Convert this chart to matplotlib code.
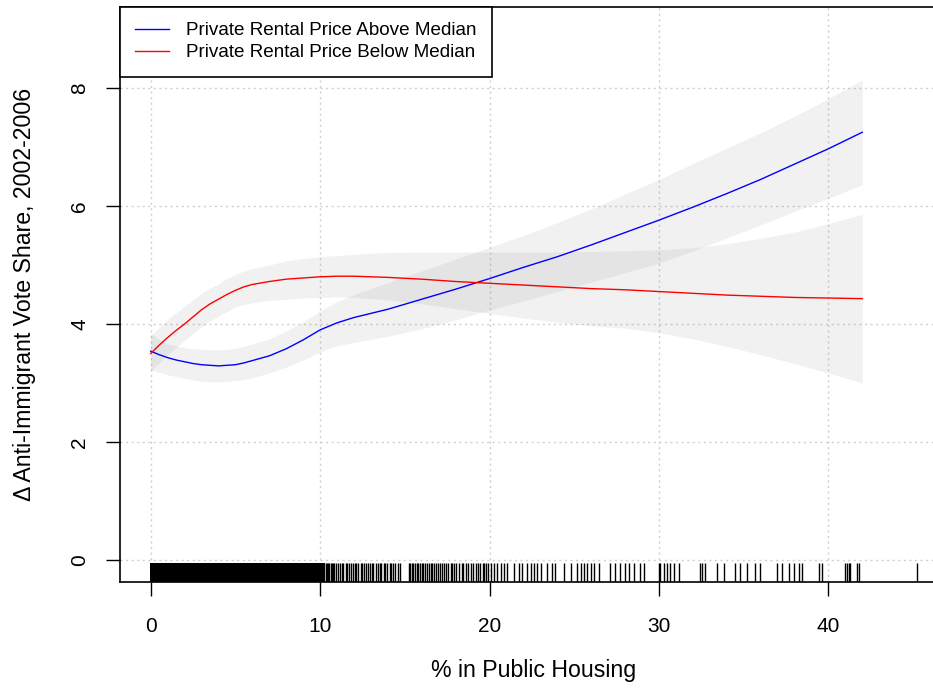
import numpy as np
import matplotlib
matplotlib.use('Agg')
import matplotlib.pyplot as plt
import matplotlib.transforms as mtransforms

plt.rcParams['font.family'] = ['Liberation Sans', 'DejaVu Sans']

# Smoothed fits
x_grid = [0, 0.5, 1, 1.5, 2, 2.5, 3, 3.5, 4, 4.5, 5, 5.5, 6, 7, 8, 9, 10, 11,
          12, 13, 14, 16, 18, 20, 22, 24, 26, 28, 30, 32, 34, 36, 38, 40, 42]

above_fit = [3.54, 3.48, 3.43, 3.39, 3.36, 3.33, 3.31, 3.30, 3.29, 3.30, 3.31,
             3.34, 3.38, 3.46, 3.58, 3.73, 3.90, 4.02, 4.11, 4.18, 4.25, 4.42,
             4.59, 4.77, 4.96, 5.14, 5.34, 5.55, 5.76, 5.98, 6.21, 6.45, 6.71,
             6.97, 7.25]
above_lo = [3.22, 3.18, 3.14, 3.11, 3.08, 3.05, 3.03, 3.02, 3.02, 3.03, 3.04,
            3.06, 3.09, 3.17, 3.27, 3.39, 3.53, 3.63, 3.69, 3.74, 3.79, 3.92,
            4.07, 4.24, 4.39, 4.55, 4.71, 4.87, 5.03, 5.24, 5.46, 5.68, 5.91,
            6.13, 6.36]
above_hi = [3.84, 3.74, 3.66, 3.63, 3.60, 3.58, 3.57, 3.56, 3.56, 3.57, 3.59,
            3.62, 3.66, 3.75, 3.88, 4.04, 4.22, 4.38, 4.50, 4.60, 4.70, 4.90,
            5.10, 5.30, 5.50, 5.72, 5.95, 6.20, 6.45, 6.72, 6.98, 7.24, 7.52,
            7.82, 8.14]

below_fit = [3.50, 3.64, 3.77, 3.89, 4.00, 4.12, 4.24, 4.34, 4.42, 4.50, 4.57,
             4.63, 4.67, 4.72, 4.76, 4.78, 4.80, 4.81, 4.81, 4.80, 4.79, 4.76,
             4.72, 4.69, 4.66, 4.63, 4.60, 4.58, 4.55, 4.52, 4.49, 4.47, 4.45,
             4.44, 4.43]
below_lo = [3.20, 3.34, 3.48, 3.60, 3.72, 3.84, 3.95, 4.05, 4.13, 4.21, 4.29,
            4.33, 4.36, 4.40, 4.42, 4.44, 4.45, 4.46, 4.45, 4.43, 4.41, 4.34,
            4.26, 4.18, 4.10, 4.03, 3.97, 3.93, 3.85, 3.75, 3.62, 3.48, 3.33,
            3.17, 3.00]
below_hi = [3.80, 3.94, 4.08, 4.19, 4.30, 4.41, 4.52, 4.61, 4.68, 4.77, 4.84,
            4.90, 4.94, 5.00, 5.07, 5.11, 5.14, 5.16, 5.18, 5.20, 5.21, 5.22,
            5.22, 5.22, 5.22, 5.22, 5.23, 5.24, 5.26, 5.29, 5.36, 5.45, 5.56,
            5.70, 5.86]

# Rug of observed % in public housing
rug_x = [
    0.0, 0.05, 0.1, 0.18, 0.25, 0.3, 0.38, 0.45, 0.52, 0.6, 0.66, 0.72, 0.8,
    0.87, 0.93, 1.0, 1.08, 1.15, 1.2, 1.28, 1.35, 1.42, 1.5, 1.56, 1.63, 1.7,
    1.78, 1.85, 1.9, 1.98, 2.05, 2.12, 2.2, 2.27, 2.33, 2.4, 2.48, 2.55, 2.6,
    2.68, 2.75, 2.82, 2.9, 2.97, 3.03, 3.1, 3.18, 3.25, 3.3, 3.38, 3.45, 3.52,
    3.6, 3.66, 3.72, 3.8, 3.87, 3.93, 4.0, 4.08, 4.15, 4.22, 4.3, 4.36, 4.42,
    4.5, 4.57, 4.63, 4.7, 4.78, 4.85, 4.92, 5.0, 5.06, 5.12, 5.2, 5.27, 5.33,
    5.4, 5.48, 5.55, 5.62, 5.7, 5.76, 5.82, 5.9, 5.97, 6.03, 6.1, 6.18, 6.25,
    6.32, 6.4, 6.46, 6.52, 6.6, 6.67, 6.73, 6.8, 6.88, 6.95, 7.02, 7.1, 7.16,
    7.22, 7.3, 7.37, 7.43, 7.5, 7.58, 7.65, 7.72, 7.8, 7.86, 7.92, 8.0, 8.07,
    8.13, 8.2, 8.28, 8.35, 8.42, 8.5, 8.56, 8.62, 8.7, 8.77, 8.83, 8.9, 8.98,
    9.05, 9.12, 9.2, 9.26, 9.32, 9.4, 9.47, 9.53, 9.6, 9.68, 9.75, 9.82, 9.9,
    9.96, 10.03, 10.1, 10.17, 10.25, 10.32, 10.4, 10.47, 10.55, 10.62, 10.7,
    10.78, 10.85, 10.93, 11.05, 11.15, 11.3, 11.38, 11.5, 11.6, 11.72, 11.8,
    11.95, 12.05, 12.12, 12.25, 12.4, 12.5, 12.58, 12.7, 12.85, 12.92, 13.05,
    13.15, 13.3, 13.4, 13.52, 13.6, 13.75, 13.85, 13.95, 14.1, 14.2, 14.3,
    14.45, 14.6, 14.72, 15.22, 15.3, 15.42, 15.5, 15.6, 15.7, 15.8, 15.88,
    16.0, 16.1, 16.2, 16.3, 16.45, 16.55, 16.62, 16.75, 16.85, 16.95, 17.1,
    17.2, 17.3, 17.45, 17.55, 17.7, 17.8, 17.9, 18.05, 18.2, 18.35, 18.45,
    18.6, 18.75, 18.9, 19.05, 19.2, 19.3, 19.45, 19.6, 19.7, 19.8, 19.9,
    20.06, 20.25, 20.45, 20.65, 20.84, 21.04, 21.43, 21.73, 21.93, 22.22,
    22.42, 22.61, 22.81, 23.01, 23.4, 23.7, 23.89, 24.38, 24.78, 25.17, 25.37,
    25.56, 25.76, 25.96, 26.15, 26.45, 27.14, 27.43, 27.73, 28.02, 28.22,
    28.51, 28.91, 29.1, 29.99, 30.09, 30.28, 30.48, 30.68, 30.88, 31.17,
    32.45, 32.55, 32.74, 33.43, 33.82, 34.51, 34.81, 35.2, 35.69, 35.99,
    36.97, 37.27, 37.66, 37.95, 38.25, 38.45, 39.43, 39.63, 41.0, 41.1, 41.2,
    41.3, 41.69, 41.79, 45.23,
]

x_ticks = [0, 10, 20, 30, 40]
y_ticks = [0, 2, 4, 6, 8]

fig = plt.figure(figsize=(9.33, 6.98), dpi=100)
# axes runs a little past the right edge of the image, like the cropped original
ax = fig.add_axes([120 / 933, 116 / 698, 828 / 933, 575 / 698])

ax.set_xlim(-1.81, 47.06)
ax.set_ylim(-0.373, 9.373)

# grid
for gx in x_ticks:
    ax.axvline(gx, color='#cfcfcf', lw=1.0, ls=(0, (1.5, 2.5)), zorder=0)
for gy in y_ticks:
    ax.axhline(gy, color='#cfcfcf', lw=1.0, ls=(0, (1.5, 2.5)), zorder=0)

# confidence bands
ax.fill_between(x_grid, above_lo, above_hi, color='gray', alpha=0.11, lw=0, zorder=1)
ax.fill_between(x_grid, below_lo, below_hi, color='gray', alpha=0.11, lw=0, zorder=1)

ax.plot(x_grid, above_fit, color='blue', lw=1.0, zorder=3,
        label='Private Rental Price Above Median')
ax.plot(x_grid, below_fit, color='red', lw=1.0, zorder=3,
        label='Private Rental Price Below Median')

# rug: the packed ticks below 10 merge into a solid block, the rest are smoothed
trans = mtransforms.blended_transform_factory(ax.transData, ax.transAxes)
packed = [v < 10.2 for v in rug_x]
ax.vlines(rug_x, 0, 0.033, transform=trans, color='black', linewidths=1.0,
          antialiaseds=[not p for p in packed], zorder=2)

for s in ax.spines.values():
    s.set_linewidth(1.2)

ax.set_xticks(x_ticks)
ax.set_yticks(y_ticks)
ax.tick_params(axis='both', direction='out', length=10, width=1.0, labelsize=15)
ax.tick_params(axis='x', pad=15)
ax.tick_params(axis='y', pad=12)
for lab in ax.get_yticklabels():
    lab.set_rotation(90)
    lab.set_va('center')

ax.set_xlabel('% in Public Housing', fontsize=16.7, labelpad=17)
ax.set_ylabel('Δ Anti-Immigrant Vote Share, 2002-2006', fontsize=16.7, labelpad=25)

leg = ax.legend(loc='upper left', bbox_to_anchor=(0, 1), borderaxespad=0,
                fontsize=13.6, fancybox=False, edgecolor='black', framealpha=1,
                handlelength=1.8, handletextpad=0.9, borderpad=0.8,
                labelspacing=0.26)
leg.get_frame().set_linewidth(1.2)
leg.set_zorder(5)

fig.savefig('out.png', dpi=100)
